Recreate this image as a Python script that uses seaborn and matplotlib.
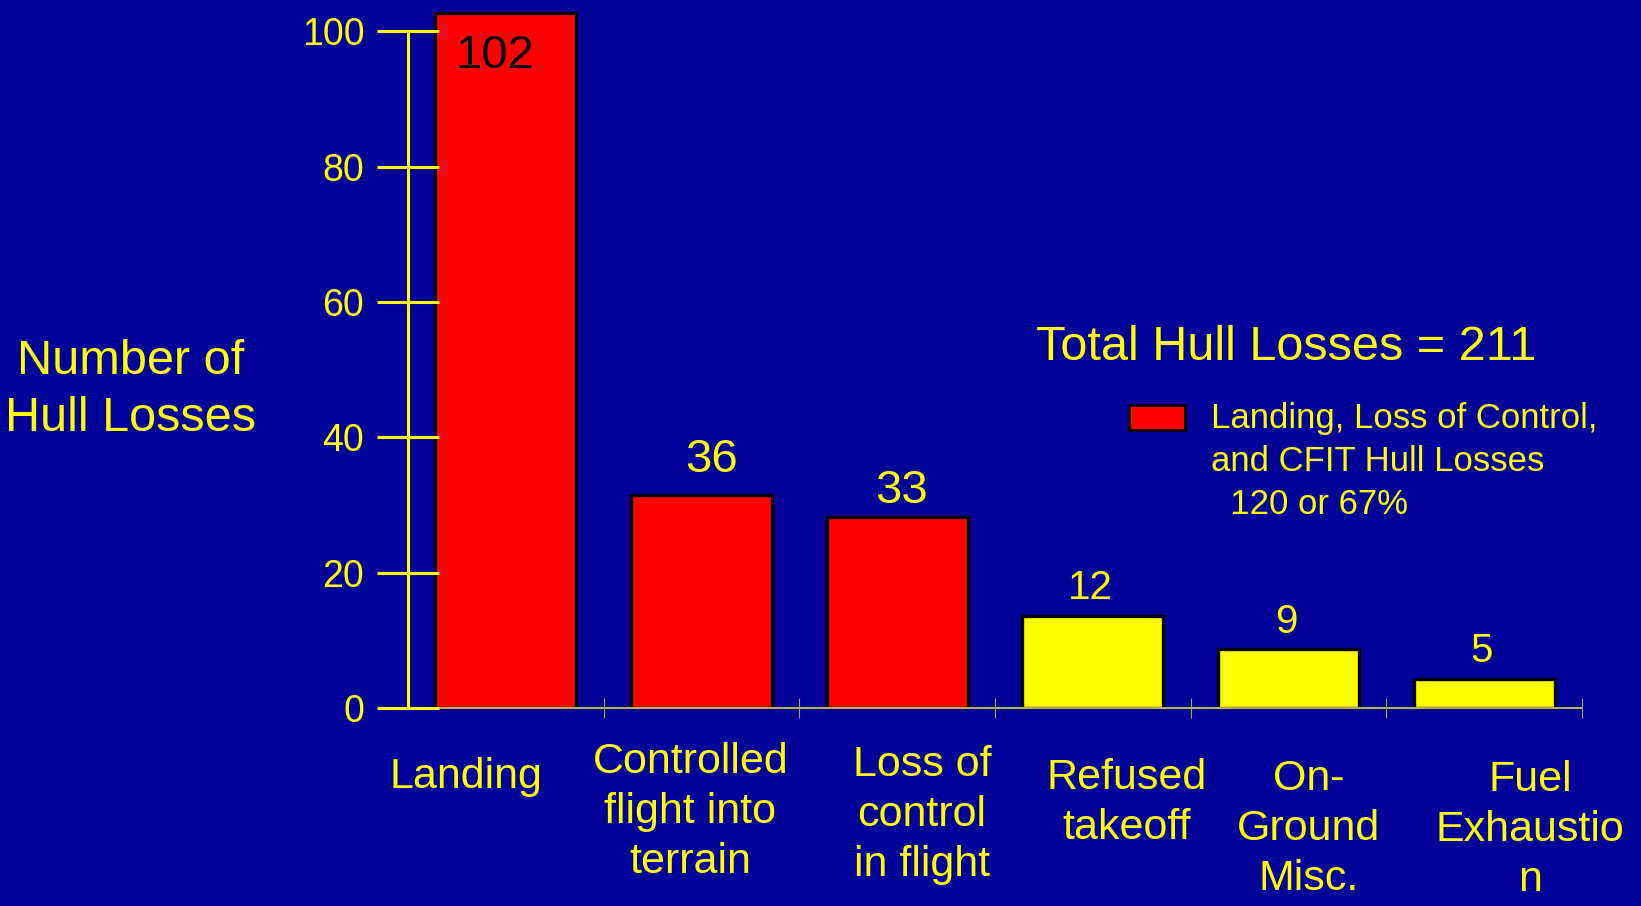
import matplotlib.pyplot as plt
import matplotlib.transforms as mtransforms
import pandas as pd
import seaborn as sns

# data
causes = [
    "Landing",
    "Controlled\nflight into\nterrain",
    "Loss of\ncontrol\nin flight",
    "Refused\ntakeoff",
    "On-\nGround\nMisc.",
    "Fuel\nExhaustio\nn",
]
bar_heights = [102.7, 31.5, 28.3, 13.6, 8.8, 4.4]  # heights as drawn
bar_labels = ["102", "36", "33", "12", "9", "5"]  # numbers printed on the bars
groups = ["major", "major", "major", "other", "other", "other"]
y_ticks = [0, 20, 40, 60, 80, 100]
legend_label = "Landing, Loss of Control,\nand CFIT Hull Losses\n  120 or 67%"
total_text = "Total Hull Losses = 211"

BG = "#000099"
YELLOW = "#ffff00"

sns.set_theme(style="white")
plt.rcParams["font.family"] = ["Liberation Sans", "DejaVu Sans"]

df = pd.DataFrame({"cause": causes, "hull_losses": bar_heights, "group": groups})

fig = plt.figure(figsize=(16.41, 9.06), dpi=100, facecolor=BG)
ax = fig.add_axes([0.2486, 0.2182, 0.7154, 0.7818])
ax.set_facecolor(BG)

sns.barplot(
    data=df,
    x="cause",
    y="hull_losses",
    hue="group",
    order=causes,
    hue_order=["major", "other"],
    palette={"major": "#ff0000", "other": YELLOW},
    dodge=False,
    width=0.72,
    saturation=1,
    edgecolor="black",
    linewidth=2.4,
    errorbar=None,
    legend=False,
    ax=ax,
)
ax.set_axisbelow(False)
ax.set_xlim(-0.5, 5.5)
ax.set_ylim(0, 104.6)
ax.set_xlabel("")

# spines
for side in ["top", "right"]:
    ax.spines[side].set_visible(False)
ax.spines["left"].set_color(YELLOW)
ax.spines["left"].set_linewidth(2.2)
ax.spines["left"].set_bounds(0, 100)
ax.spines["bottom"].set_color("#d8d83a")
ax.spines["bottom"].set_linewidth(1.2)

# y axis
ax.set_yticks(y_ticks)
ax.tick_params(axis="y", direction="inout", length=44, width=2.2,
               colors=YELLOW, labelsize=27, pad=9.4, left=True)
ax.set_ylabel("Number of\nHull Losses", rotation=0, fontsize=35, color=YELLOW,
              ha="center", va="center", linespacing=1.36)
ax.yaxis.set_label_coords(-0.2364, 0.4494)

# x axis: boundary ticks + shifted category labels
ax.set_xticks([i + 0.5 for i in range(len(causes))], minor=True)
ax.tick_params(axis="x", which="minor", direction="inout", length=13.7,
               width=0.8, color="#a6a65a", bottom=True)
ax.tick_params(axis="x", which="major", length=0, pad=0,
               labelsize=31, labelcolor=YELLOW)
label_shift_px = [(-40, 49), (-11, 34), (25, 37), (34, 50), (20, 51), (46, 52)]
for lbl, (dx, dy) in zip(ax.get_xticklabels(), label_shift_px):
    lbl.set_linespacing(1.31)
    lbl.set_va("top")
    lbl.set_transform(lbl.get_transform() + mtransforms.ScaledTranslation(
        dx / 100, -dy / 100, fig.dpi_scale_trans))

# value labels
label_offsets_pt = [(-8, -39.8), (7.5, 16.6), (3, 9.9), (-1.5, 12.2), (-1.5, 11.2), (-1.5, 12.1)]
label_sizes = [34, 34, 34, 29, 29, 29]
label_colors = ["black", YELLOW, YELLOW, YELLOW, YELLOW, YELLOW]
for i, (h, txt) in enumerate(zip(bar_heights, bar_labels)):
    ax.annotate(txt, xy=(i, h), xytext=label_offsets_pt[i], textcoords="offset points",
                ha="center", va="baseline", fontsize=label_sizes[i], color=label_colors[i])

# total + legend
fig.text(0.6313, 0.6030, total_text, fontsize=35, color=YELLOW, va="baseline")

leg = ax.legend([ax.containers[0][0]], [legend_label], loc="upper left",
                bbox_to_anchor=(0.6882, 0.5563), bbox_transform=fig.transFigure,
                frameon=False, fontsize=25, labelcolor=YELLOW,
                handlelength=1.61, handleheight=0.74, handletextpad=0.73,
                borderpad=0, borderaxespad=0)
leg.get_texts()[0].set_linespacing(1.38)
patch = leg.legend_handles[0]
patch.set_linewidth(2.0)

# move the legend swatch up to the first text line
fig.canvas.draw()
tb = leg.get_texts()[0].get_window_extent()
hb = patch.get_window_extent()
patch.set_y(patch.get_y() + (tb.y1 - 3 - hb.y1) * 72 / fig.dpi)

fig.savefig("out.png", dpi=100, facecolor=BG)
